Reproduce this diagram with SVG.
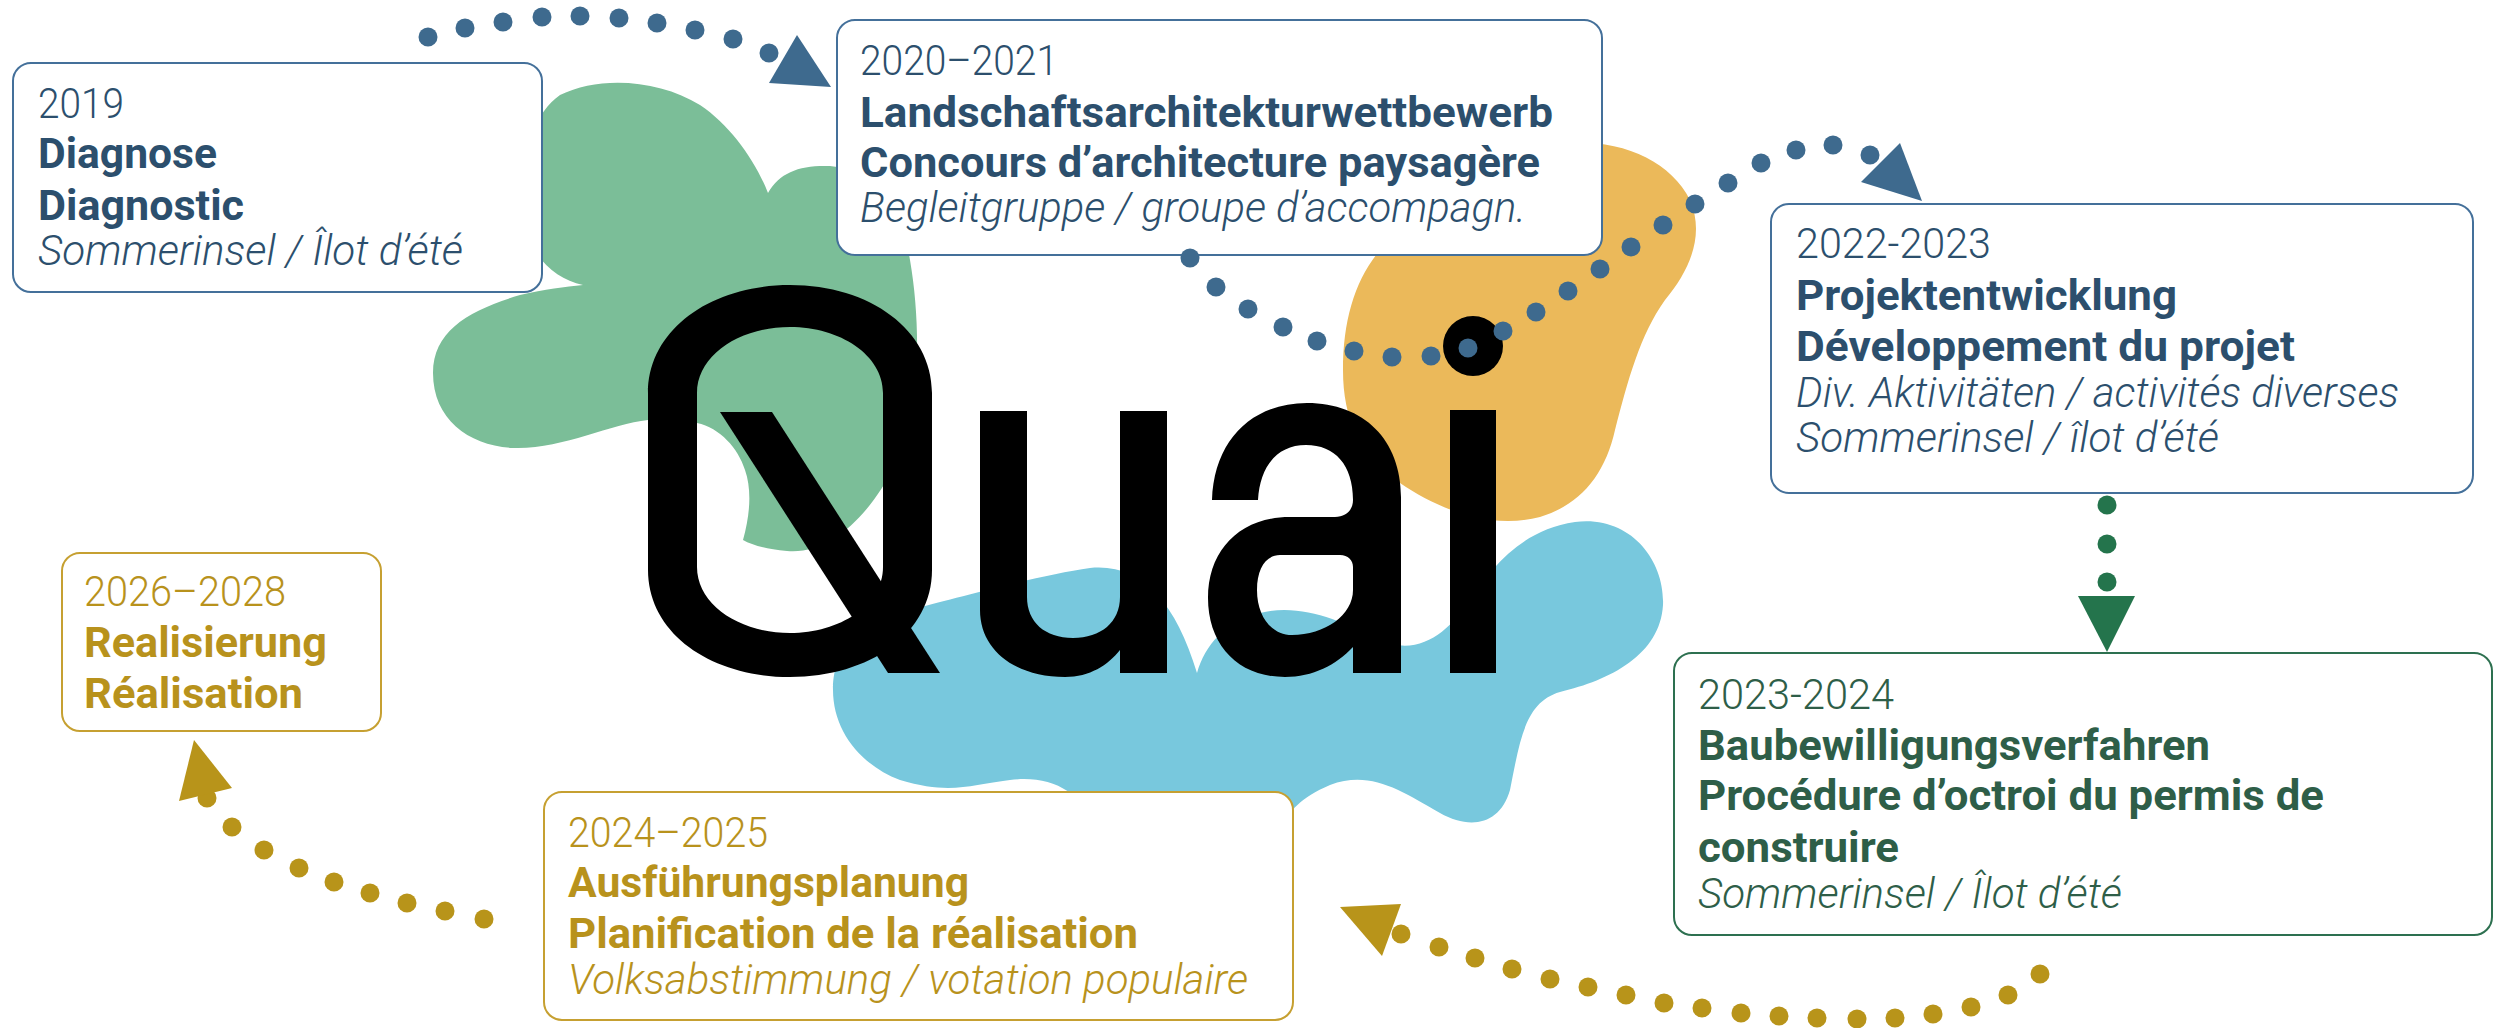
<svg xmlns="http://www.w3.org/2000/svg" width="2496" height="1028" viewBox="0 0 2496 1028">
<style>
.box{fill:#fff;stroke-width:2}
.bb{stroke:#44709a}
.bg{stroke:#2d7050}
.by{stroke:#c6a031}
text{font-family:Roboto,"Liberation Sans",sans-serif;font-size:42px}
.yr{font-weight:300}
.tt{font-weight:700}
.it{font-style:italic;font-weight:300}
.cb{fill:#2c4f6d}
.cg{fill:#2e5e48}
.cy{fill:#b8921c}
.dots{fill:none;stroke:none}
</style>
<defs>
<marker id="dotB" markerUnits="userSpaceOnUse" markerWidth="20" markerHeight="20" refX="10" refY="10" viewBox="0 0 20 20"><circle cx="10" cy="10" r="9.5" fill="#3e6a8e"/></marker>
<marker id="dotG" markerUnits="userSpaceOnUse" markerWidth="20" markerHeight="20" refX="10" refY="10" viewBox="0 0 20 20"><circle cx="10" cy="10" r="9.5" fill="#24744c"/></marker>
<marker id="dotY" markerUnits="userSpaceOnUse" markerWidth="20" markerHeight="20" refX="10" refY="10" viewBox="0 0 20 20"><circle cx="10" cy="10" r="9.5" fill="#b8941a"/></marker>
</defs>
<rect width="2496" height="1028" fill="#fff"/>
<g id="blobs">
<path id="blob-green" fill="#7bbe98" d="M 583,285 C 560,280 540,265 530,240 C 515,180 525,120 560,95 C 600,75 660,80 700,105 C 730,125 755,160 768,193 C 780,172 800,165 830,166 C 870,170 900,200 910,260 C 922,330 920,420 895,465 C 870,515 830,555 787,551 C 765,549 752,545 743,540 C 750,515 752,490 745,470 C 738,448 720,428 697,423 C 680,419 665,418 648,420 C 610,424 560,450 513,448 C 470,446 433,420 433,373 C 433,330 470,310 520,295 C 545,289 565,287 583,285 Z"/>
<path id="blob-orange" fill="#ebb95a" d="M 1380,250 C 1400,190 1480,150 1560,143 C 1620,138 1670,160 1690,200 C 1705,235 1690,270 1665,300 C 1640,335 1628,380 1615,430 C 1605,475 1580,505 1540,517 C 1490,530 1440,510 1400,483 C 1360,455 1343,420 1343,370 C 1343,320 1355,280 1380,250 Z"/>
<path id="blob-blue" fill="#78c8dd" d="M 833,690 C 833,640 870,620 917,608 C 960,597 1040,575 1090,568 C 1140,563 1175,600 1197,673 C 1205,645 1225,622 1260,613 C 1300,603 1340,620 1380,640 C 1420,658 1450,630 1470,600 C 1490,570 1520,530 1575,522 C 1630,515 1665,560 1663,605 C 1660,655 1610,680 1560,692 C 1525,702 1520,740 1510,790 C 1500,825 1470,830 1440,813 C 1400,790 1370,770 1330,785 C 1300,798 1290,810 1280,830 L 1100,830 C 1080,790 1050,775 1010,780 C 970,785 950,795 900,780 C 860,765 833,730 833,690 Z"/>
</g>
<g id="logo" fill="#000">
<path id="logo-Q" fill-rule="evenodd" d="M 648,393 C 648,330 710,285 790,285 C 870,285 932,330 932,393 V 570 C 932,633 870,677 790,677 C 710,677 648,633 648,570 Z M 697,393 C 697,355 740,327 790,327 C 840,327 883,355 883,393 V 567 C 883,605 840,633 790,633 C 740,633 697,605 697,567 Z"/>
<polygon id="logo-Q-tail" points="720,412 772,412 940,673 888,673"/>
<path id="logo-u" d="M 980,411 H 1027 V 597 C 1027,622 1045,638 1073,638 C 1101,638 1120,622 1120,597 V 411 H 1167 V 673 H 1120 V 650 C 1108,665 1090,677 1065,677 C 1015,677 980,650 980,610 Z"/>
<path id="logo-a" fill-rule="evenodd" d="M 1212,500 C 1214,440 1252,403 1307,403 C 1364,403 1401,440 1401,497 V 673 H 1353 V 647 C 1336,665 1313,677 1285,677 C 1238,677 1208,645 1208,598 C 1208,550 1240,517 1290,517 H 1335 C 1346,517 1353,510 1353,500 C 1353,465 1335,445 1306,445 C 1278,445 1260,465 1258,500 Z M 1353,567 C 1353,560 1348,555 1340,555 H 1280 C 1266,555 1257,568 1257,590 C 1257,617 1272,635 1292,635 C 1325,635 1353,615 1353,590 Z"/>
<rect id="logo-i" x="1450" y="410" width="46" height="263"/>
<circle id="logo-i-dot" cx="1473" cy="346" r="30"/>
</g>
<g id="node-2019">
<rect class="box bb" x="13" y="63" width="529" height="229" rx="18"/>
<text class="yr cb" x="38" y="118" textLength="86" lengthAdjust="spacingAndGlyphs">2019</text>
<text class="tt cb" x="38" y="168" textLength="179" lengthAdjust="spacingAndGlyphs">Diagnose</text>
<text class="tt cb" x="38" y="220" textLength="206" lengthAdjust="spacingAndGlyphs">Diagnostic</text>
<text class="it cb" x="38" y="265" textLength="425" lengthAdjust="spacingAndGlyphs">Sommerinsel / Îlot d’été</text>
</g>
<g id="node-2020">
<rect class="box bb" x="837" y="20" width="765" height="235" rx="18"/>
<text class="yr cb" x="860" y="75" textLength="198" lengthAdjust="spacingAndGlyphs">2020–2021</text>
<text class="tt cb" x="860" y="127" textLength="693" lengthAdjust="spacingAndGlyphs">Landschaftsarchitekturwettbewerb</text>
<text class="tt cb" x="860" y="177" textLength="680" lengthAdjust="spacingAndGlyphs">Concours d’architecture paysagère</text>
<text class="it cb" x="860" y="222" textLength="666" lengthAdjust="spacingAndGlyphs">Begleitgruppe / groupe d’accompagn.</text>
</g>
<g id="node-2022">
<rect class="box bb" x="1771" y="204" width="702" height="289" rx="18"/>
<text class="yr cb" x="1796" y="258" textLength="195" lengthAdjust="spacingAndGlyphs">2022-2023</text>
<text class="tt cb" x="1796" y="310" textLength="381" lengthAdjust="spacingAndGlyphs">Projektentwicklung</text>
<text class="tt cb" x="1796" y="361" textLength="499" lengthAdjust="spacingAndGlyphs">Développement du projet</text>
<text class="it cb" x="1796" y="407" textLength="603" lengthAdjust="spacingAndGlyphs">Div. Aktivitäten / activités diverses</text>
<text class="it cb" x="1796" y="452" textLength="423" lengthAdjust="spacingAndGlyphs">Sommerinsel / îlot d’été</text>
</g>
<g id="node-2023">
<rect class="box bg" x="1674" y="653" width="818" height="282" rx="18"/>
<text class="yr cg" x="1698" y="709" textLength="196" lengthAdjust="spacingAndGlyphs">2023-2024</text>
<text class="tt cg" x="1698" y="760" textLength="512" lengthAdjust="spacingAndGlyphs">Baubewilligungsverfahren</text>
<text class="tt cg" x="1698" y="810" textLength="626" lengthAdjust="spacingAndGlyphs">Procédure d’octroi du permis de</text>
<text class="tt cg" x="1698" y="862" textLength="201" lengthAdjust="spacingAndGlyphs">construire</text>
<text class="it cg" x="1698" y="908" textLength="424" lengthAdjust="spacingAndGlyphs">Sommerinsel / Îlot d’été</text>
</g>
<g id="node-2024">
<rect class="box by" x="544" y="792" width="749" height="228" rx="18"/>
<text class="yr cy" x="568" y="847" textLength="200" lengthAdjust="spacingAndGlyphs">2024–2025</text>
<text class="tt cy" x="568" y="897" textLength="401" lengthAdjust="spacingAndGlyphs">Ausführungsplanung</text>
<text class="tt cy" x="568" y="948" textLength="570" lengthAdjust="spacingAndGlyphs">Planification de la réalisation</text>
<text class="it cy" x="568" y="994" textLength="680" lengthAdjust="spacingAndGlyphs">Volksabstimmung / votation populaire</text>
</g>
<g id="node-2026">
<rect class="box by" x="62" y="553" width="319" height="178" rx="18"/>
<text class="yr cy" x="84" y="606" textLength="202" lengthAdjust="spacingAndGlyphs">2026–2028</text>
<text class="tt cy" x="84" y="657" textLength="243" lengthAdjust="spacingAndGlyphs">Realisierung</text>
<text class="tt cy" x="84" y="708" textLength="219" lengthAdjust="spacingAndGlyphs">Réalisation</text>
</g>
<g id="connectors">
<g id="c-2019-2020">
<path class="dots" marker-start="url(#dotB)" marker-mid="url(#dotB)" marker-end="url(#dotB)" d="M 428,37 L 465,28 L 503,22 L 542,17 L 580,16 L 619,18 L 657,23 L 695,30 L 733,39 L 769,53"/>
<polygon fill="#3e6a8e" points="797,35 769,83 831,87"/>
</g>
<g id="c-2020-2022">
<path class="dots" marker-start="url(#dotB)" marker-mid="url(#dotB)" marker-end="url(#dotB)" d="M 1190,258 L 1216,287 L 1248,309 L 1283,327 L 1317,341 L 1354,351 L 1392,357 L 1431,356 L 1468,348 L 1503,331 L 1536,312 L 1568,291 L 1600,269 L 1631,247 L 1663,225 L 1695,204 L 1728,183 L 1761,163 L 1796,150 L 1833,145 L 1870,155"/>
<polygon fill="#3e6a8e" points="1900,143 1861,182 1922,201"/>
</g>
<g id="c-2022-2023">
<path class="dots" marker-start="url(#dotG)" marker-mid="url(#dotG)" marker-end="url(#dotG)" d="M 2107,505 L 2107,544 L 2107,582"/>
<polygon fill="#24744c" points="2078,596 2135,596 2107,652"/>
</g>
<g id="c-2023-2024">
<path class="dots" marker-start="url(#dotY)" marker-mid="url(#dotY)" marker-end="url(#dotY)" d="M 2040,974 L 2008,995 L 1971,1007 L 1933,1014 L 1895,1018 L 1857,1019 L 1817,1018 L 1779,1016 L 1741,1013 L 1702,1008 L 1664,1003 L 1626,995 L 1588,987 L 1550,979 L 1512,969 L 1475,958 L 1439,947 L 1401,934"/>
<polygon fill="#b8941a" points="1340,907 1401,904 1382,956"/>
</g>
<g id="c-2024-2026">
<path class="dots" marker-start="url(#dotY)" marker-mid="url(#dotY)" marker-end="url(#dotY)" d="M 484,919 L 445,911 L 407,903 L 370,893 L 334,882 L 299,868 L 264,850 L 232,827 L 207,798"/>
<polygon fill="#b8941a" points="194,740 232,788 179,801"/>
</g>
</g>
</svg>
